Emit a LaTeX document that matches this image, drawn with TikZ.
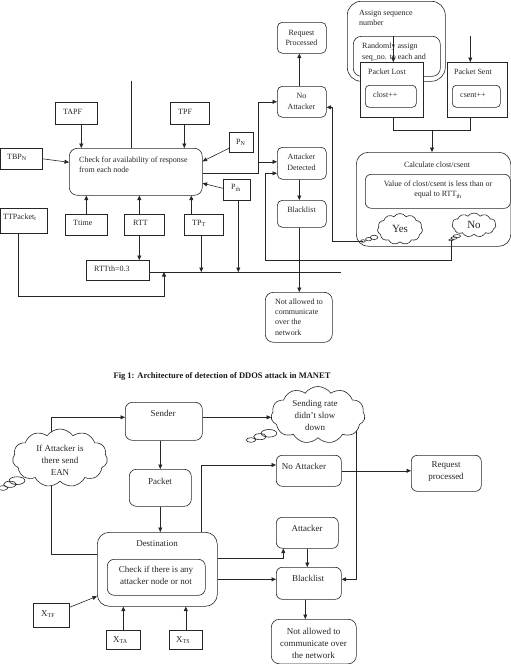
\documentclass[tikz,border=0pt]{standalone}
\usepackage{fontspec}
\setmainfont{Liberation Serif}
\usetikzlibrary{arrows.meta,shapes.symbols,shapes.callouts,backgrounds}
\newcommand\mkbox[6]{\node[#6,anchor=north west,minimum width={(#4-#2)*1pt},minimum height={(#5-#3)*1pt},inner sep=0pt] (#1) at (#2,#3) {};}
\tikzset{
 ln/.style={line width=0.6pt, draw=black!85},
 arr/.style={ln, -{Triangle[length=4.5pt,width=4pt]}},
 sq/.style={draw=black!85, line width=0.6pt, fill=white, rectangle},
 rb/.style={sq, rounded corners=5pt},
 tx/.style={inner sep=0pt, font=\fontsize{8}{10.5}\selectfont, text=black!85},
 txb/.style={inner sep=0pt, font=\fontsize{9}{12}\selectfont, text=black!85, align=center},
 cl/.style={cloud callout, draw=black!85, line width=0.6pt, fill=white, cloud puffs=11, cloud puff arc=110, inner sep=0pt, callout pointer segments=3},
}
\begin{document}
\begin{tikzpicture}[x=1pt,y=-1pt]
\useasboundingbox (0,0) rectangle (511,664);
% ---------------- top diagram ----------------
\mkbox{tapf}{55}{102}{97}{124}{sq}
\mkbox{tpf}{170}{102}{209}{124}{sq}
\mkbox{pn}{229}{132}{253}{152}{sq}
\mkbox{tbpn}{0.5}{148}{42}{169}{sq}
\mkbox{check}{69}{148}{202}{195}{sq,rounded corners=8pt}
\mkbox{pth}{223}{179}{250}{200}{sq}
\mkbox{ttpk}{0.5}{208}{47}{233}{sq}
\mkbox{ttime}{65}{214}{107}{235}{sq}
\mkbox{rtt}{124}{214}{164}{235}{sq}
\mkbox{tpt}{184}{214}{223}{235}{sq}
\mkbox{rttth}{86}{260}{149}{280}{sq}
\mkbox{reqp}{277}{22}{326}{53}{rb}
\mkbox{noatt}{277}{86}{326}{117}{rb}
\mkbox{attdet}{277}{147}{326}{179}{rb}
\mkbox{black}{277}{200}{326}{227}{rb}
\mkbox{notal}{265}{292}{332}{342}{rb,rounded corners=8pt}
\mkbox{assign}{347}{1}{445}{81}{rb,rounded corners=14pt}
\mkbox{rand}{353}{36}{440}{76}{rb,rounded corners=8pt}
\node[tx,anchor=west,align=left] (t-rand) at (362,52) {Randomly assign\\seq\_no. to each and};
\mkbox{plost}{360}{62}{423}{117}{sq}
\mkbox{clost}{365}{85}{416}{107}{rb,rounded corners=4pt}
\mkbox{psent}{447}{62}{507}{117}{sq}
\mkbox{csent}{452}{85}{500}{107}{rb,rounded corners=4pt}
\mkbox{calc}{356}{152}{510.5}{246}{rb,rounded corners=12pt}
\mkbox{value}{365}{174}{510}{208}{rb,rounded corners=6pt}
\coordinate (yp) at (363,241);
\coordinate (np) at (451,240);
\node[cl, minimum width=45pt, minimum height=31pt, callout absolute pointer={(yp)}] (yes) at (400,229) {};
\node[cl, minimum width=44pt, minimum height=24pt, callout absolute pointer={(np)}] (no) at (474,225) {};

% texts top
\node[tx,anchor=west] (t-tapf) at (63,112) {TAPF};
\node[tx,anchor=west] (t-tpf) at (178,112) {TPF};
\node[tx,anchor=west] (t-pn) at (236,142) {P\textsubscript{N}};
\node[tx,anchor=west] (t-tbpn) at (7,157) {TBP\textsubscript{N}};
\node[tx,anchor=west,align=left] (t-check) at (79,164.5) {Check for availability of response\\from each node};
\node[tx,anchor=west] (t-pth) at (231,188) {P\textsubscript{th}};
\node[tx,anchor=west] (t-ttpk) at (3,217) {TTPacket\textsubscript{t}};
\node[tx,anchor=west] (t-ttime) at (73,223) {Ttime};
\node[tx,anchor=west] (t-rtt) at (133,223) {RTT};
\node[tx,anchor=west] (t-tpt) at (192,223) {TP\textsubscript{T}};
\node[tx,anchor=west] (t-rttth) at (94,269) {RTTth=0.3};
\node[tx,align=center] (t-reqp) at (301.5,38) {Request\\Processed};
\node[tx,align=center] (t-noatt) at (301.5,101.5) {No\\Attacker};
\node[tx,align=center] (t-attdet) at (301.5,162.5) {Attacker\\Detected};
\node[tx] (t-black) at (301.5,210) {Blacklist};
\begin{scope}
\clip (266,293) rectangle (331,334.5);
\node[tx,anchor=north west,align=left,font=\fontsize{8}{10.3}\selectfont] (t-notal) at (275,298.5) {Not allowed to\\communicate\\over the\\network};
\end{scope}
\node[tx,anchor=west,align=left] (t-assign) at (359,18) {Assign sequence\\number};
\node[tx,anchor=west] (t-plost) at (368,72) {Packet Lost};
\node[tx,anchor=west] (t-clost) at (373,95) {clost++};
\node[tx,anchor=west] (t-psent) at (454,72) {Packet Sent};
\node[tx,anchor=west] (t-csent) at (460,95) {csent++};
\node[tx] (t-calc) at (437,165) {Calculate clost/csent};
\node[tx,align=center] (t-value) at (438,189.5) {Value of clost/csent is less than or\\equal to RTT\textsubscript{th}};
\node[tx,font=\fontsize{11}{12}\selectfont] (t-yes) at (yes.center) {Yes};
\node[tx,font=\fontsize{11}{12}\selectfont] (t-no) at (no.center) {No};

% connectors top
\coordinate (a1) at ([xshift=5pt]tapf.south); \draw[arr] (a1) -- (a1 |- check.north);
\coordinate (a2) at ([xshift=-5.5pt]tpf.south); \draw[arr] (a2) -- (a2 |- check.north);
\coordinate (vtop) at (131,81); \draw[ln] (vtop) -- (vtop |- check.north);
\coordinate (a3e) at ([yshift=9.5pt]check.west); \draw[arr] (tbpn.east) -- (a3e);
\coordinate (a4) at ([yshift=-6pt]pn.west); \coordinate (a4e) at ([yshift=10.5pt]check.east); \draw[arr] (a4) -- (a4e);
\coordinate (a5) at ([yshift=1.5pt]pth.west); \coordinate (a5e) at ([yshift=-11.5pt]check.east); \draw[arr] (a5) -- (a5e);
\draw[arr] (ttime.north) -- (ttime.north |- check.south);
\coordinate (a6) at ([xshift=-5pt]rtt.north); \draw[arr] (a6) -- (a6 |- check.south);
\coordinate (a7) at ([xshift=-5pt]rtt.south); \draw[arr] (a7) -- (a7 |- rttth.north);
\coordinate (a8) at ([xshift=-12.5pt]tpt.north); \draw[arr] (a8) -- (a8 |- check.south);
\coordinate (hl) at (341,272); \draw[ln] (rttth.east |- hl) -- (hl);
\coordinate (a9) at ([xshift=-2.5pt]tpt.south); \draw[arr] (a9) -- (a9 |- hl);
\coordinate (a10) at ([xshift=1.5pt]pth.south); \draw[arr] (a10) -- (a10 |- hl);
\coordinate (a11) at ([xshift=-5.5pt]ttpk.south); \coordinate (ttj) at (164,296); \draw[arr] (a11) |- (ttj) -- (ttj |- hl);
\coordinate (cj) at (258,173); \draw[arr] (check.east |- cj) -- (cj) |- (noatt.west);
\coordinate (ad1) at ([yshift=1.5pt]attdet.west); \draw[arr] (ad1 -| cj) -- (ad1);
\coordinate (yx) at (332,241); \coordinate (na2) at ([yshift=-5.5pt]noatt.east); \draw[arr] (yp) -- (yx) |- (na2);
\coordinate (nb) at (265,260); \coordinate (ad2) at ([yshift=-10pt]attdet.west); \draw[arr] (np) |- (nb) |- (ad2);
\coordinate (n1) at ([xshift=-2.5pt]noatt.north); \draw[arr] (n1) -- (n1 |- reqp.south);
\coordinate (n2) at ([xshift=-2.5pt]attdet.south); \draw[arr] (n2) -- (n2 |- black.north);
\coordinate (b1) at ([xshift=-2.5pt]black.south); \draw[arr] (b1) -- (b1 |- notal.north);
\coordinate (pl1) at ([xshift=1.5pt]plost.north); \draw[arr] (pl1 |- rand.north) -- (pl1);
\coordinate (ps1) at ([xshift=-7pt]psent.north); \draw[arr] (ps1 |- rand.north) -- (ps1);
\coordinate (jn) at (432,130);
\coordinate (pl2) at ([xshift=1.5pt]plost.south); \coordinate (ps2) at ([xshift=-7pt]psent.south);
\draw[ln] (pl2) |- (ps2 |- jn) -- (ps2);
\draw[arr] (jn) -- (jn |- calc.north);

\node[inner sep=0pt,font=\bfseries\fontsize{8.5}{10}\selectfont,text=black!90] (cap) at (222,376) {Fig 1: Architecture of detection of DDOS attack in MANET};

% ---------------- bottom diagram ----------------
\mkbox{sender}{125}{402}{202}{440}{rb,rounded corners=7pt}
\mkbox{packet}{129}{469}{191}{506}{rb,rounded corners=7pt}
\mkbox{dest}{97}{532}{217}{606}{rb,rounded corners=12pt}
\mkbox{chk}{107}{559}{205}{595}{rb,rounded corners=7pt}
\mkbox{noatt2}{276}{455}{341}{486}{rb,rounded corners=6pt}
\mkbox{reqp2}{411}{455}{481}{491}{rb,rounded corners=6pt}
\mkbox{attk}{276}{517}{338}{548}{rb,rounded corners=6pt}
\mkbox{black2}{276}{567}{341}{599}{rb,rounded corners=6pt}
\mkbox{notal2}{271}{619}{356}{663.5}{rb,rounded corners=8pt}
\mkbox{xtf}{33}{603}{69}{627}{sq}
\mkbox{xta}{106}{630}{140}{649}{sq}
\mkbox{xts}{169}{630}{202}{649}{sq}
\coordinate (ep) at (3,488);
\coordinate (rp) at (251,440);
\node[cl, minimum width=95pt, minimum height=58pt, callout absolute pointer={(ep)}] (ean) at (60,458) {};
\node[cl, minimum width=94pt, minimum height=57pt, callout absolute pointer={(rp)}] (rate) at (318,415) {};

\node[txb] (t-sender) at (163,413) {Sender};
\node[txb] (t-packet) at (160,481) {Packet};
\node[txb] (t-dest) at (157,544) {Destination};
\node[txb] (t-chk) at (156,575) {Check if there is any\\attacker node or not};
\node[txb] (t-ean) at (60,460) {If Attacker is\\there send\\EAN};
\node[txb] (t-rate) at (315,415.5) {Sending rate\\didn’t slow\\down};
\node[txb] (t-noatt2) at (304,466) {No Attacker};
\node[txb] (t-reqp2) at (446,472) {Request\\processed};
\node[txb] (t-attk) at (307,528) {Attacker};
\node[txb] (t-black2) at (308,578) {Blacklist};
\node[txb] (t-notal2) at (313.5,643) {Not allowed to\\communicate over\\the network};
\node[txb,anchor=west] (t-xtf) at (41,614) {X\textsubscript{TF}};
\node[txb,anchor=west] (t-xta) at (113,640) {X\textsubscript{TA}};
\node[txb,anchor=west] (t-xts) at (176,640) {X\textsubscript{TS}};

\begin{scope}[on background layer]
\coordinate (lp) at (51,554); \coordinate (sin) at ([yshift=4pt]sender.west);
\draw[arr] (dest.west |- lp) -- (lp) |- (sin);
\coordinate (rx) at (356,420); \coordinate (bl2) at ([yshift=4pt]black2.east);
\draw[arr] (rx) |- (bl2);
\end{scope}
\coordinate (sout) at ([yshift=4pt]sender.east); \draw[arr] (sout) -- (sout -| rate.west);
\draw[arr] (packet.north |- sender.south) -- (packet.north);
\draw[arr] (packet.south) -- (packet.south |- dest.north);
\coordinate (dn) at (201,465); \draw[arr] (dn |- dest.north) -- (dn) -- (dn -| noatt2.west);
\coordinate (nr) at (noatt2.east); \draw[arr] (nr) -- (nr -| reqp2.west);
\coordinate (da) at ([yshift=11pt]dest.east); \coordinate (ax) at ([xshift=-24pt]attk.south); \draw[arr] (da) -| (ax);
\coordinate (db) at ([yshift=-10pt]dest.east); \draw[arr] (db) -- (db -| black2.west);
\draw[arr] (attk.south) -- (attk.south |- black2.north);
\coordinate (b3) at ([xshift=-3.5pt]black2.south); \draw[arr] (b3) -- (b3 |- notal2.north);
\coordinate (xf1) at ([yshift=8pt]xtf.east); \coordinate (xf2) at ([yshift=-27pt]dest.west); \draw[arr] (xf1) -- (xf2);
\draw[arr] (xta.north) -- (xta.north |- dest.south);
\draw[arr] (xts.north) -- (xts.north |- dest.south);
\end{tikzpicture}
\end{document}
